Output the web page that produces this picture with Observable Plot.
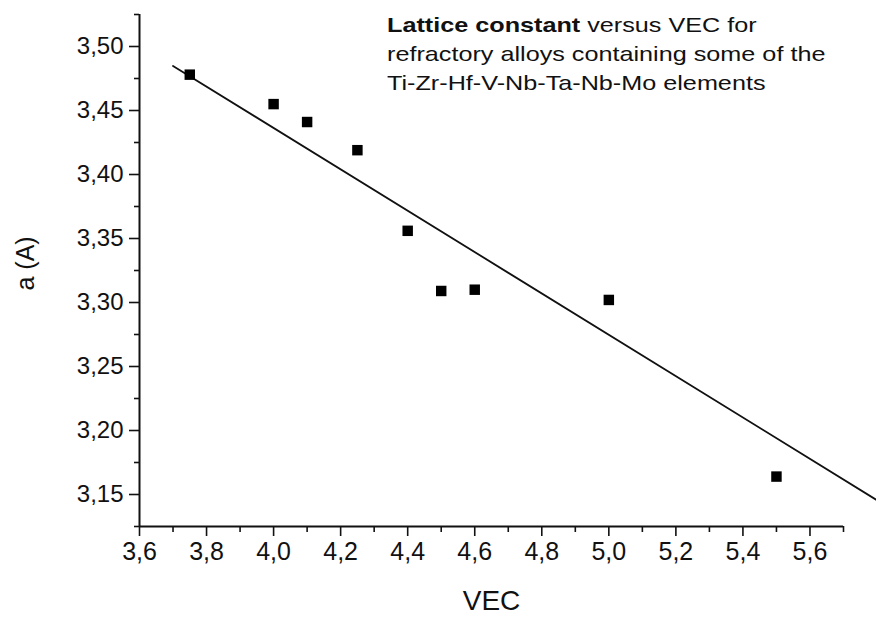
<!DOCTYPE html>
<html>
<head>
<meta charset="utf-8">
<script src="https://cdn.jsdelivr.net/npm/d3@7"></script>
<script src="https://cdn.jsdelivr.net/npm/@observablehq/plot@0.6"></script>
<style>
  html, body { margin: 0; padding: 0; background: #fff; }
  #wrap { position: relative; width: 876px; height: 617px; overflow: hidden; }
  #note { position: absolute; left: 387px; top: 10px; font-family: "Liberation Sans", Arial, sans-serif;
          font-size: 21px; line-height: 29px; color: #111; white-space: nowrap;
          transform: scaleX(1.2); transform-origin: 0 0; }
</style>
</head>
<body>
<div id="wrap">
  <div id="chart"></div>
  <div id="note"><b>Lattice constant</b> versus VEC for<br>refractory alloys containing some of the<br>Ti-Zr-Hf-V-Nb-Ta-Nb-Mo elements</div>
</div>
<script>
// Data
const vec = [3.75, 4.0, 4.1, 4.25, 4.4, 4.5, 4.6, 5.0, 5.5];
const latticeA = [3.478, 3.455, 3.441, 3.419, 3.356, 3.309, 3.310, 3.302, 3.164];
// Fitted straight line (endpoints as drawn)
const fitVec = [3.7, 5.8];
const fitA = [3.4848, 3.1455];
// Axis ticks
const xTicks = [3.6, 3.8, 4.0, 4.2, 4.4, 4.6, 4.8, 5.0, 5.2, 5.4, 5.6];
const xMinor = [3.7, 3.9, 4.1, 4.3, 4.5, 4.7, 4.9, 5.1, 5.3, 5.5, 5.7];
const yTicks = [3.15, 3.20, 3.25, 3.30, 3.35, 3.40, 3.45, 3.50];
const yMinor = [3.125, 3.175, 3.225, 3.275, 3.325, 3.375, 3.425, 3.475, 3.525];
const xDomain = [3.6, 5.7];
const yDomain = [3.125, 3.525];

const points = vec.map((v, i) => ({vec: v, a: latticeA[i]}));
const fit = fitVec.map((v, i) => ({vec: v, a: fitA[i]}));
const comma = (f) => (d) => d3.format(f)(d).replace(".", ",");
const font = "Liberation Sans, Arial, sans-serif";

const chart = Plot.plot({
  width: 876,
  height: 617,
  marginLeft: 139,
  marginRight: 33,
  marginTop: 14,
  marginBottom: 91,
  style: {fontFamily: font, background: "white", color: "#111"},
  x: {domain: xDomain},
  y: {domain: yDomain},
  marks: [
    Plot.axisX({ticks: xTicks, tickSize: 10, tickPadding: 6, tickFormat: comma(".1f"),
                fontSize: 25, strokeWidth: 1.6, label: null, stroke: "#111"}),
    Plot.axisX({ticks: xMinor, tickSize: 6, tickFormat: null, text: null, strokeWidth: 1.6, label: null, stroke: "#111"}),
    Plot.axisY({ticks: yTicks, tickSize: 10, tickPadding: 6, tickFormat: comma(".2f"),
                fontSize: 24, strokeWidth: 1.6, label: null, stroke: "#111"}),
    Plot.axisY({ticks: yMinor, tickSize: 5, tickFormat: null, text: null, strokeWidth: 1.6, label: null, stroke: "#111"}),
    Plot.ruleX([xDomain[0]], {stroke: "#111", strokeWidth: 2}),
    Plot.ruleY([yDomain[0]], {stroke: "#111", strokeWidth: 2}),
    Plot.line(fit, {x: "vec", y: "a", stroke: "#111", strokeWidth: 1.8}),
    Plot.dot(points, {x: "vec", y: "a", symbol: "square", r: 5.9, fill: "#000", stroke: "none"}),
    Plot.text(["VEC"], {frameAnchor: "bottom", lineAnchor: "bottom", dy: 83, fontSize: 28, fill: "#111"}),
    Plot.text(["a (A)"], {frameAnchor: "left", rotate: -90, dx: -114, dy: 20, fontSize: 25, fill: "#111"})
  ]
});
document.getElementById("chart").appendChild(chart);
</script>
</body>
</html>
